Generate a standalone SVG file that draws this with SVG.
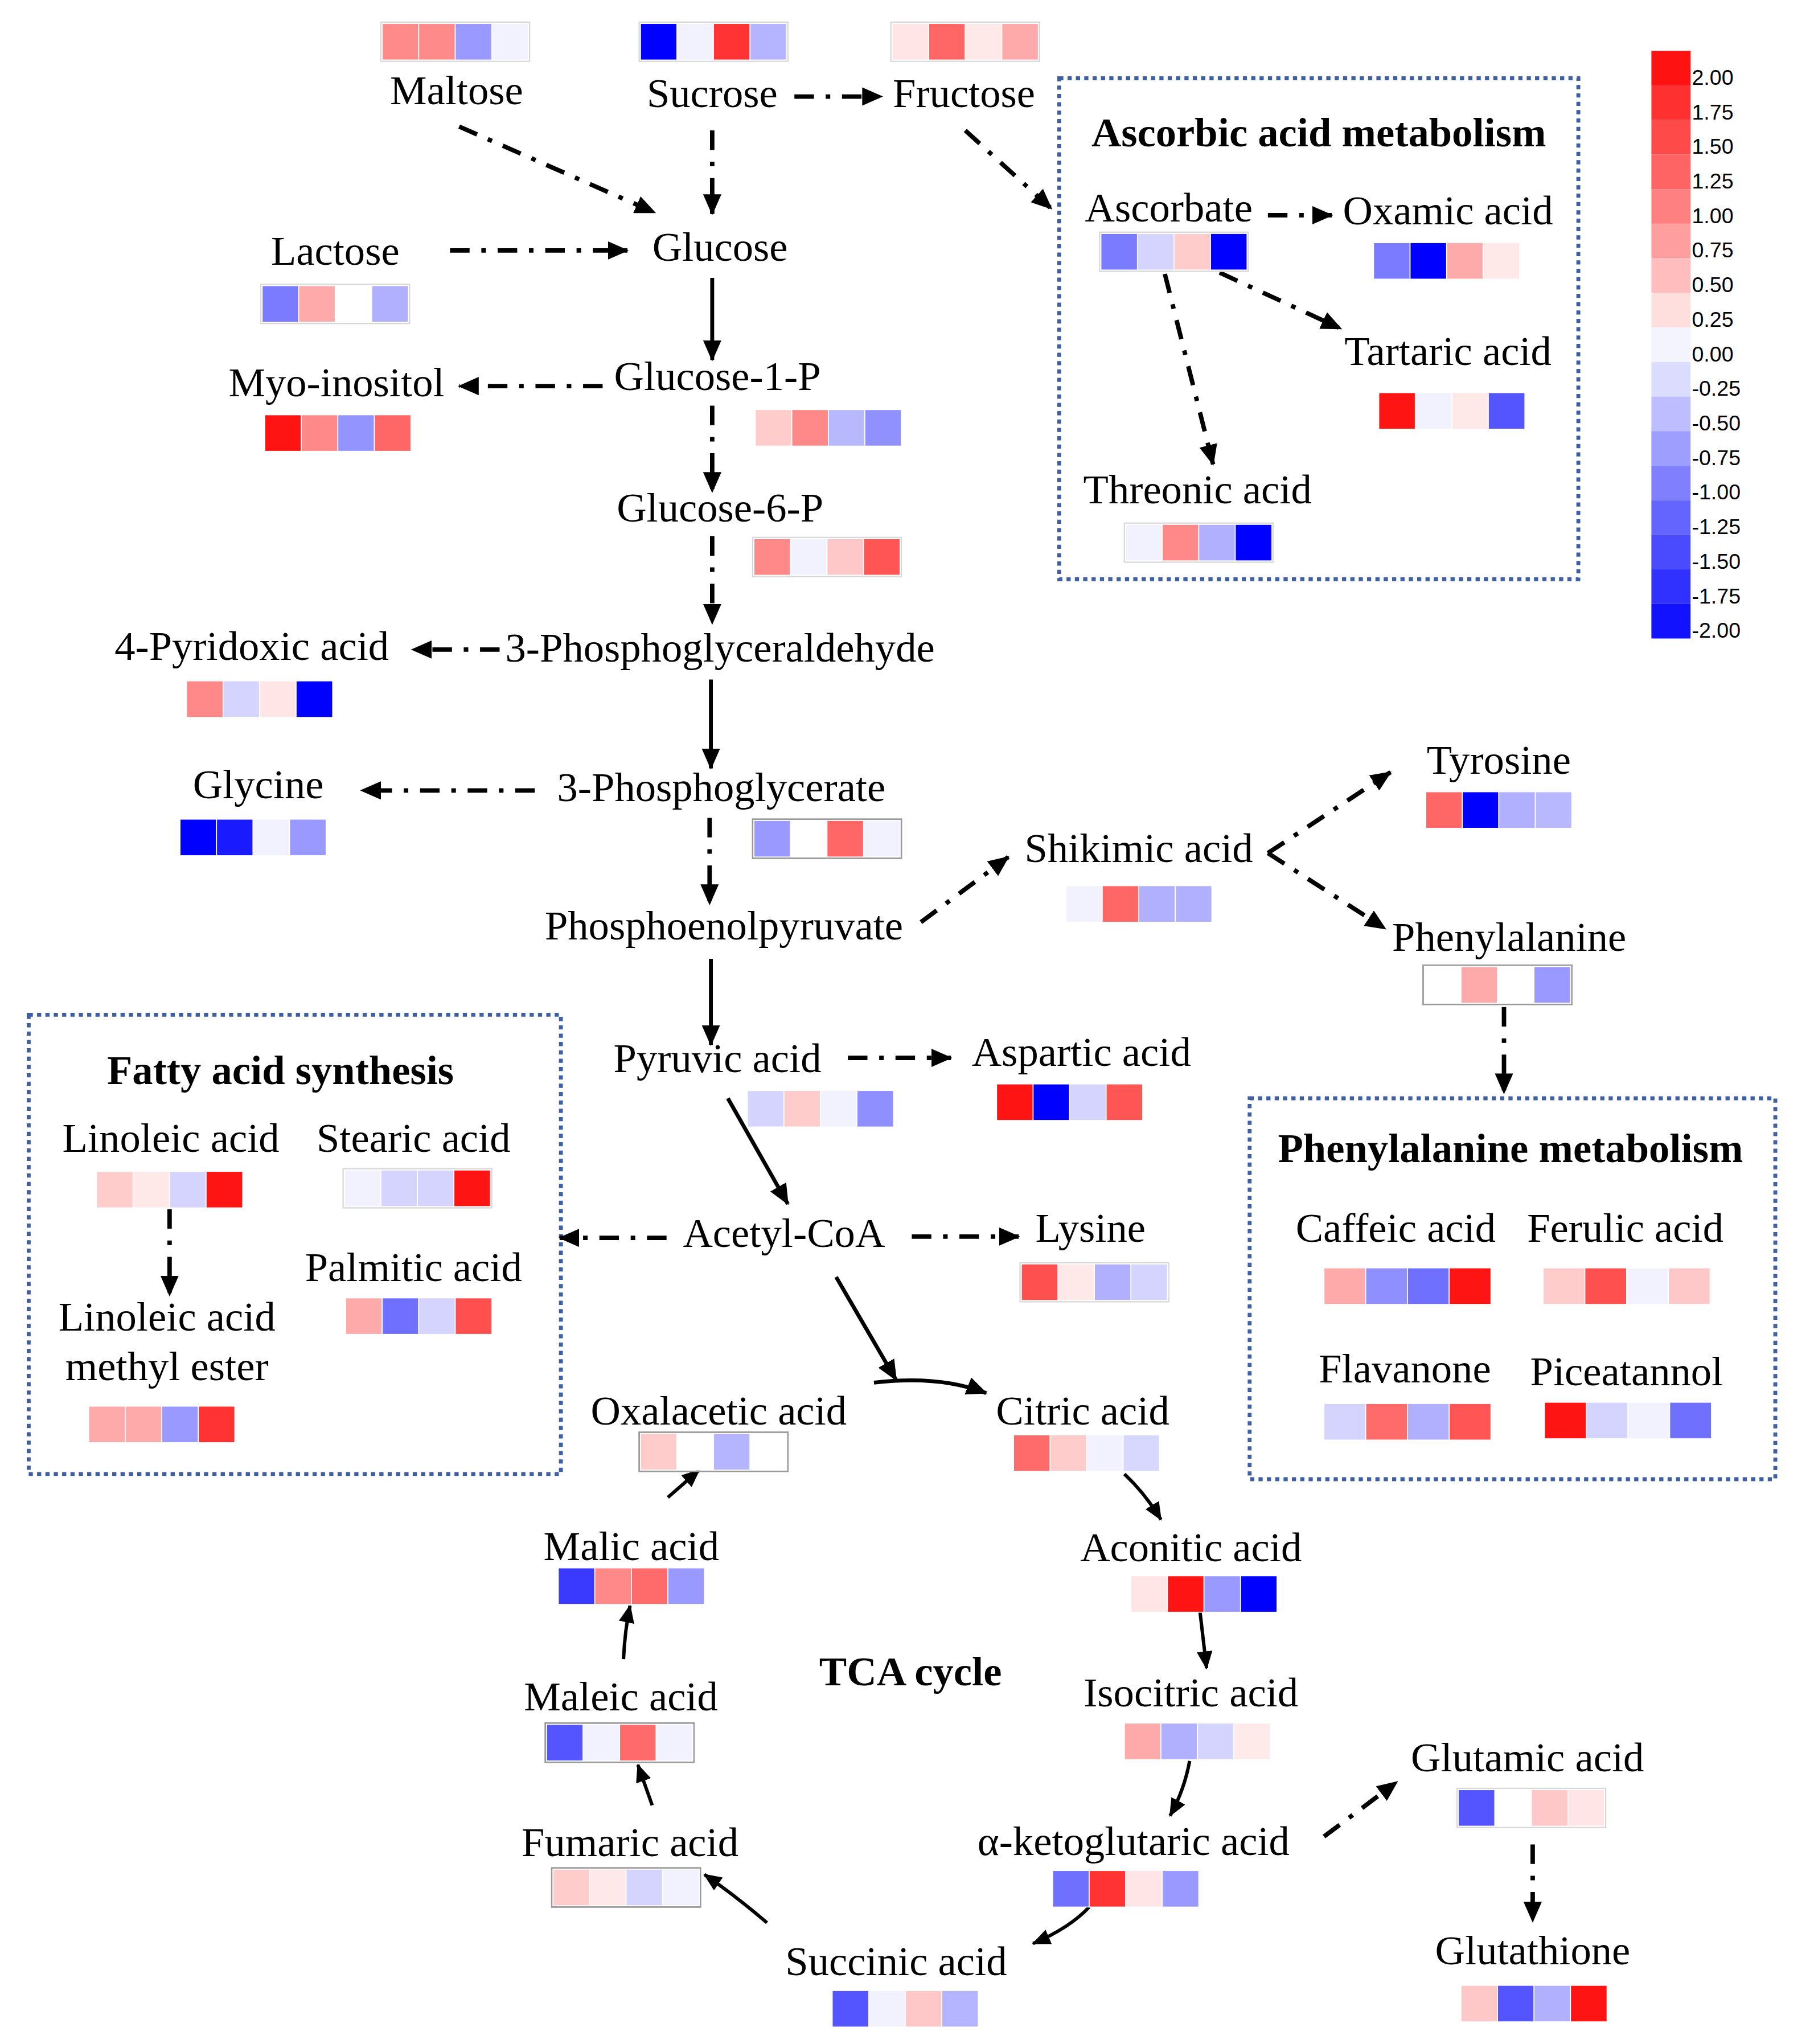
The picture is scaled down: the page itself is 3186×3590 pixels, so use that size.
<svg xmlns="http://www.w3.org/2000/svg" width="3186" height="3590" viewBox="0 0 3186 3590">
<style>
.t{font-family:"Liberation Serif","Times New Roman",serif;font-size:31.7px;text-anchor:middle;fill:#000}
.b{font-weight:bold}
.dd{fill:none;stroke:#000;stroke-width:3.4;stroke-dasharray:15 9 3.5 9;marker-end:url(#ah)}
.sl{fill:none;stroke:#000;stroke-width:3;marker-end:url(#ah)}
.tc{fill:none;stroke:#000;stroke-width:2.6;marker-end:url(#ah2)}
.box{fill:none;stroke:#3E5FA3;stroke-width:3;stroke-dasharray:3.2 3.2}
.hb{fill:none;stroke:#D8D8D8;stroke-width:1}
.hd{fill:none;stroke:#9A9A9A;stroke-width:1.2}
.c{stroke:#fff;stroke-width:0.7}
.cb{font-family:"Liberation Sans",Arial,sans-serif;font-size:16.4px;fill:#000}
</style>
<defs>
<marker id="ah" markerUnits="userSpaceOnUse" markerWidth="16" markerHeight="14" viewBox="0 0 16 14" refX="15" refY="7" orient="auto"><path d="M0,0 L16,7 L0,14 z" fill="#000"/></marker>
<marker id="ah2" markerUnits="userSpaceOnUse" markerWidth="14" markerHeight="12" viewBox="0 0 14 12" refX="13" refY="6" orient="auto"><path d="M0,0 L14,6 L0,12 z" fill="#000"/></marker>
</defs>
<rect width="3186" height="3590" fill="#fff"/>
<g transform="scale(2.291)">
<g id="boxes">
<rect id="box-ascorbic" class="box" x="812" y="60" width="398" height="384"/>
<rect id="box-fatty" class="box" x="22" y="778" width="408" height="352"/>
<rect id="box-phe" class="box" x="958" y="842" width="403" height="292"/>
<text class="t b" x="1011" y="112">Ascorbic acid metabolism</text>
<text class="t b" x="215" y="831">Fatty acid synthesis</text>
<text class="t b" x="1158" y="891">Phenylalanine metabolism</text>
<text class="t b" x="698" y="1292">TCA cycle</text>
</g>
<g id="connectors">
<path class="dd" d="M352,97 L502,163"/>
<path class="dd" d="M546,100 L546,164"/>
<path class="dd" d="M609,74 L676,74"/>
<path class="dd" d="M740,100 L806,160"/>
<path class="dd" d="M345,192 L481,192"/>
<path class="dd" d="M462,296 L352,296"/>
<path class="dd" d="M546,311 L546,377"/>
<path class="dd" d="M546,411 L546,478"/>
<path class="dd" d="M383,498 L316,498"/>
<path class="dd" d="M410,606 L277,606"/>
<path class="dd" d="M544,627 L544,693"/>
<path class="dd" d="M706,707 L773,657"/>
<path class="dd" d="M972,654 L1066,592"/>
<path class="dd" d="M972,654 L1062,712"/>
<path class="dd" d="M1153,772 L1153,838"/>
<path class="dd" d="M650,811 L729,811"/>
<path class="dd" d="M511,949 L429,949"/>
<path class="dd" d="M699,948 L781,948"/>
<path class="dd" d="M1015,1408 L1071,1366"/>
<path class="dd" d="M1175,1414 L1175,1473"/>
<path class="dd" d="M972,165 L1021,165"/>
<path class="dd" d="M935,209 L1028,252"/>
<path class="dd" d="M893,210 L930,356"/>
<path class="dd" d="M130,927 L130,993"/>
<path class="sl" d="M546,213 L546,276"/>
<path class="sl" d="M545,521 L545,589"/>
<path class="sl" d="M545,735 L545,801"/>
<path class="sl" d="M558,842 L604,923"/>
<path class="sl" d="M641,979 L687,1058"/>
<path class="sl" d="M670,1060 Q720,1054 756,1068"/>
<path class="tc" d="M862,1130 Q878,1145 890,1165"/>
<path class="tc" d="M920,1236 L925,1279"/>
<path class="tc" d="M912,1350 Q908,1372 897,1392"/>
<path class="tc" d="M835,1462 Q820,1478 792,1490"/>
<path class="tc" d="M588,1474 Q562,1452 540,1437"/>
<path class="tc" d="M500,1384 L489,1353"/>
<path class="tc" d="M478,1272 Q479,1250 483,1231"/>
<path class="tc" d="M512,1148 L536,1127"/>
</g>
<g id="n-maltose"><text class="t" x="350" y="80">Maltose</text><g transform="translate(293,18)"><rect class="hb" x="-1" y="-1" width="114" height="30"/><rect class="c" x="0" width="28" height="28" fill="#FF8A8A"/><rect class="c" x="28" width="28" height="28" fill="#FF8A8A"/><rect class="c" x="56" width="28" height="28" fill="#9999FF"/><rect class="c" x="84" width="28" height="28" fill="#F2F2FF"/></g></g>
<g id="n-sucrose"><text class="t" x="546" y="82">Sucrose</text><g transform="translate(491,18)"><rect class="hb" x="-1" y="-1" width="114" height="30"/><rect class="c" x="0" width="28" height="28" fill="#0000FF"/><rect class="c" x="28" width="28" height="28" fill="#F2F2FF"/><rect class="c" x="56" width="28" height="28" fill="#FF3333"/><rect class="c" x="84" width="28" height="28" fill="#B5B5FF"/></g></g>
<g id="n-fructose"><text class="t" x="739" y="82">Fructose</text><g transform="translate(684,18)"><rect class="hb" x="-1" y="-1" width="114" height="30"/><rect class="c" x="0" width="28" height="28" fill="#FFE5E5"/><rect class="c" x="28" width="28" height="28" fill="#FF6666"/><rect class="c" x="56" width="28" height="28" fill="#FFE8E8"/><rect class="c" x="84" width="28" height="28" fill="#FFAAAA"/></g></g>
<g id="n-glucose"><text class="t" x="552" y="200">Glucose</text></g>
<g id="n-lactose"><text class="t" x="257" y="203">Lactose</text><g transform="translate(201,219)"><rect class="hb" x="-1" y="-1" width="114" height="30"/><rect class="c" x="0" width="28" height="28" fill="#7B7BFF"/><rect class="c" x="28" width="28" height="28" fill="#FFAAAA"/><rect class="c" x="56" width="28" height="28" fill="#FFFFFF"/><rect class="c" x="84" width="28" height="28" fill="#B0B0FF"/></g></g>
<g id="n-g1p"><text class="t" x="550" y="299">Glucose-1-P</text><g transform="translate(579,314)"><rect class="c" x="0" width="28" height="28" fill="#FFCCCC"/><rect class="c" x="28" width="28" height="28" fill="#FF8888"/><rect class="c" x="56" width="28" height="28" fill="#B8B8FF"/><rect class="c" x="84" width="28" height="28" fill="#9090FF"/></g></g>
<g id="n-myo"><text class="t" x="258" y="304">Myo-inositol</text><g transform="translate(203,318)"><rect class="c" x="0" width="28" height="28" fill="#FF1414"/><rect class="c" x="28" width="28" height="28" fill="#FF8888"/><rect class="c" x="56" width="28" height="28" fill="#9494FF"/><rect class="c" x="84" width="28" height="28" fill="#FF6666"/></g></g>
<g id="n-g6p"><text class="t" x="552" y="400">Glucose-6-P</text><g transform="translate(578,413)"><rect class="hb" x="-1" y="-1" width="114" height="30"/><rect class="c" x="0" width="28" height="28" fill="#FF8888"/><rect class="c" x="28" width="28" height="28" fill="#F2F2FF"/><rect class="c" x="56" width="28" height="28" fill="#FFC8C8"/><rect class="c" x="84" width="28" height="28" fill="#FF5555"/></g></g>
<g id="n-3pgald"><text class="t" x="552" y="507">3-Phosphoglyceraldehyde</text></g>
<g id="n-pyridoxic"><text class="t" x="193" y="506">4-Pyridoxic acid</text><g transform="translate(143,522)"><rect class="c" x="0" width="28" height="28" fill="#FF8888"/><rect class="c" x="28" width="28" height="28" fill="#D4D4FF"/><rect class="c" x="56" width="28" height="28" fill="#FFE5E5"/><rect class="c" x="84" width="28" height="28" fill="#0000FF"/></g></g>
<g id="n-3pg"><text class="t" x="553" y="614">3-Phosphoglycerate</text><g transform="translate(578,629)"><rect class="hd" x="-1" y="-1" width="114" height="30"/><rect class="c" x="0" width="28" height="28" fill="#9999FF"/><rect class="c" x="28" width="28" height="28" fill="#FFFFFF"/><rect class="c" x="56" width="28" height="28" fill="#FF6666"/><rect class="c" x="84" width="28" height="28" fill="#F2F2FF"/></g></g>
<g id="n-glycine"><text class="t" x="198" y="612">Glycine</text><g transform="translate(138,628)"><rect class="c" x="0" width="28" height="28" fill="#0000FF"/><rect class="c" x="28" width="28" height="28" fill="#1A1AFF"/><rect class="c" x="56" width="28" height="28" fill="#F2F2FF"/><rect class="c" x="84" width="28" height="28" fill="#9999FF"/></g></g>
<g id="n-pep"><text class="t" x="555" y="720">Phosphoenolpyruvate</text></g>
<g id="n-shikimic"><text class="t" x="873" y="661">Shikimic acid</text><g transform="translate(817,679)"><rect class="c" x="0" width="28" height="28" fill="#F2F2FF"/><rect class="c" x="28" width="28" height="28" fill="#FF6666"/><rect class="c" x="56" width="28" height="28" fill="#B0B0FF"/><rect class="c" x="84" width="28" height="28" fill="#B0B0FF"/></g></g>
<g id="n-tyrosine"><text class="t" x="1149" y="593">Tyrosine</text><g transform="translate(1093,607)"><rect class="c" x="0" width="28" height="28" fill="#FF6666"/><rect class="c" x="28" width="28" height="28" fill="#0000FF"/><rect class="c" x="56" width="28" height="28" fill="#B0B0FF"/><rect class="c" x="84" width="28" height="28" fill="#B8B8FF"/></g></g>
<g id="n-phe"><text class="t" x="1157" y="729">Phenylalanine</text><g transform="translate(1092,741)"><rect class="hd" x="-1" y="-1" width="114" height="30"/><rect class="c" x="0" width="28" height="28" fill="#FFFFFF"/><rect class="c" x="28" width="28" height="28" fill="#FFAAAA"/><rect class="c" x="56" width="28" height="28" fill="#FFFFFF"/><rect class="c" x="84" width="28" height="28" fill="#9999FF"/></g></g>
<g id="n-pyruvic"><text class="t" x="550" y="822">Pyruvic acid</text><g transform="translate(573,836)"><rect class="c" x="0" width="28" height="28" fill="#D4D4FF"/><rect class="c" x="28" width="28" height="28" fill="#FFCCCC"/><rect class="c" x="56" width="28" height="28" fill="#F2F2FF"/><rect class="c" x="84" width="28" height="28" fill="#8F8FFF"/></g></g>
<g id="n-aspartic"><text class="t" x="829" y="817">Aspartic acid</text><g transform="translate(764,831)"><rect class="c" x="0" width="28" height="28" fill="#FF1414"/><rect class="c" x="28" width="28" height="28" fill="#0000FF"/><rect class="c" x="56" width="28" height="28" fill="#D4D4FF"/><rect class="c" x="84" width="28" height="28" fill="#FF5555"/></g></g>
<g id="n-acetylcoa"><text class="t" x="601" y="956">Acetyl-CoA</text></g>
<g id="n-lysine"><text class="t" x="836" y="952">Lysine</text><g transform="translate(783,969)"><rect class="hb" x="-1" y="-1" width="114" height="30"/><rect class="c" x="0" width="28" height="28" fill="#FF5050"/><rect class="c" x="28" width="28" height="28" fill="#FFE8E8"/><rect class="c" x="56" width="28" height="28" fill="#B0B0FF"/><rect class="c" x="84" width="28" height="28" fill="#D4D4FF"/></g></g>
<g id="n-oxalacetic"><text class="t" x="551" y="1092">Oxalacetic acid</text><g transform="translate(491,1099)"><rect class="hd" x="-1" y="-1" width="114" height="30"/><rect class="c" x="0" width="28" height="28" fill="#FFCCCC"/><rect class="c" x="28" width="28" height="28" fill="#FFFFFF"/><rect class="c" x="56" width="28" height="28" fill="#B5B5FF"/><rect class="c" x="84" width="28" height="28" fill="#FFFFFF"/></g></g>
<g id="n-citric"><text class="t" x="830" y="1092">Citric acid</text><g transform="translate(777,1100)"><rect class="c" x="0" width="28" height="28" fill="#FF6B6B"/><rect class="c" x="28" width="28" height="28" fill="#FFCCCC"/><rect class="c" x="56" width="28" height="28" fill="#F2F2FF"/><rect class="c" x="84" width="28" height="28" fill="#D8D8FF"/></g></g>
<g id="n-aconitic"><text class="t" x="913" y="1197">Aconitic acid</text><g transform="translate(867,1208)"><rect class="c" x="0" width="28" height="28" fill="#FFE5E5"/><rect class="c" x="28" width="28" height="28" fill="#FF1414"/><rect class="c" x="56" width="28" height="28" fill="#9999FF"/><rect class="c" x="84" width="28" height="28" fill="#0000FF"/></g></g>
<g id="n-isocitric"><text class="t" x="913" y="1308">Isocitric acid</text><g transform="translate(862,1321)"><rect class="c" x="0" width="28" height="28" fill="#FFAAAA"/><rect class="c" x="28" width="28" height="28" fill="#B0B0FF"/><rect class="c" x="56" width="28" height="28" fill="#D4D4FF"/><rect class="c" x="84" width="28" height="28" fill="#FFEAEA"/></g></g>
<g id="n-akg"><text class="t" x="869" y="1422">α-ketoglutaric acid</text><g transform="translate(807,1434)"><rect class="c" x="0" width="28" height="28" fill="#7070FF"/><rect class="c" x="28" width="28" height="28" fill="#FF3333"/><rect class="c" x="56" width="28" height="28" fill="#FFE5E5"/><rect class="c" x="84" width="28" height="28" fill="#9999FF"/></g></g>
<g id="n-glutamic"><text class="t" x="1171" y="1358">Glutamic acid</text><g transform="translate(1118,1372)"><rect class="hb" x="-1" y="-1" width="114" height="30"/><rect class="c" x="0" width="28" height="28" fill="#5555FF"/><rect class="c" x="28" width="28" height="28" fill="#FFFFFF"/><rect class="c" x="56" width="28" height="28" fill="#FFC8C8"/><rect class="c" x="84" width="28" height="28" fill="#FFE5E5"/></g></g>
<g id="n-glutathione"><text class="t" x="1175" y="1506">Glutathione</text><g transform="translate(1120,1522)"><rect class="c" x="0" width="28" height="28" fill="#FFC8C8"/><rect class="c" x="28" width="28" height="28" fill="#5555FF"/><rect class="c" x="56" width="28" height="28" fill="#B0B0FF"/><rect class="c" x="84" width="28" height="28" fill="#FF1414"/></g></g>
<g id="n-succinic"><text class="t" x="687" y="1514">Succinic acid</text><g transform="translate(638,1526)"><rect class="c" x="0" width="28" height="28" fill="#5555FF"/><rect class="c" x="28" width="28" height="28" fill="#F2F2FF"/><rect class="c" x="56" width="28" height="28" fill="#FFC8C8"/><rect class="c" x="84" width="28" height="28" fill="#B5B5FF"/></g></g>
<g id="n-fumaric"><text class="t" x="483" y="1423">Fumaric acid</text><g transform="translate(424,1433)"><rect class="hd" x="-1" y="-1" width="114" height="30"/><rect class="c" x="0" width="28" height="28" fill="#FFCCCC"/><rect class="c" x="28" width="28" height="28" fill="#FFE8E8"/><rect class="c" x="56" width="28" height="28" fill="#D4D4FF"/><rect class="c" x="84" width="28" height="28" fill="#F2F2FF"/></g></g>
<g id="n-maleic"><text class="t" x="476" y="1311">Maleic acid</text><g transform="translate(419,1322)"><rect class="hd" x="-1" y="-1" width="114" height="30"/><rect class="c" x="0" width="28" height="28" fill="#5555FF"/><rect class="c" x="28" width="28" height="28" fill="#F2F2FF"/><rect class="c" x="56" width="28" height="28" fill="#FF6B6B"/><rect class="c" x="84" width="28" height="28" fill="#F2F2FF"/></g></g>
<g id="n-malic"><text class="t" x="484" y="1196">Malic acid</text><g transform="translate(428,1202)"><rect class="c" x="0" width="28" height="28" fill="#3A3AFF"/><rect class="c" x="28" width="28" height="28" fill="#FF8888"/><rect class="c" x="56" width="28" height="28" fill="#FF6B6B"/><rect class="c" x="84" width="28" height="28" fill="#9999FF"/></g></g>
<g id="n-ascorbate"><text class="t" x="896" y="170">Ascorbate</text><g transform="translate(844,179)"><rect class="hb" x="-1" y="-1" width="114" height="30"/><rect class="c" x="0" width="28" height="28" fill="#7B7BFF"/><rect class="c" x="28" width="28" height="28" fill="#D4D4FF"/><rect class="c" x="56" width="28" height="28" fill="#FFCCCC"/><rect class="c" x="84" width="28" height="28" fill="#0000FF"/></g></g>
<g id="n-oxamic"><text class="t" x="1110" y="172">Oxamic acid</text><g transform="translate(1053,186)"><rect class="c" x="0" width="28" height="28" fill="#7B7BFF"/><rect class="c" x="28" width="28" height="28" fill="#0000FF"/><rect class="c" x="56" width="28" height="28" fill="#FFAAAA"/><rect class="c" x="84" width="28" height="28" fill="#FFE8E8"/></g></g>
<g id="n-tartaric"><text class="t" x="1110" y="280">Tartaric acid</text><g transform="translate(1057,301)"><rect class="c" x="0" width="28" height="28" fill="#FF1414"/><rect class="c" x="28" width="28" height="28" fill="#F2F2FF"/><rect class="c" x="56" width="28" height="28" fill="#FFE8E8"/><rect class="c" x="84" width="28" height="28" fill="#5555FF"/></g></g>
<g id="n-threonic"><text class="t" x="918" y="386">Threonic acid</text><g transform="translate(863,402)"><rect class="hb" x="-1" y="-1" width="114" height="30"/><rect class="c" x="0" width="28" height="28" fill="#F2F2FF"/><rect class="c" x="28" width="28" height="28" fill="#FF8888"/><rect class="c" x="56" width="28" height="28" fill="#B0B0FF"/><rect class="c" x="84" width="28" height="28" fill="#0000FF"/></g></g>
<g id="n-linoleic"><text class="t" x="131" y="883">Linoleic acid</text><g transform="translate(74,898)"><rect class="c" x="0" width="28" height="28" fill="#FFCCCC"/><rect class="c" x="28" width="28" height="28" fill="#FFE8E8"/><rect class="c" x="56" width="28" height="28" fill="#D4D4FF"/><rect class="c" x="84" width="28" height="28" fill="#FF1414"/></g></g>
<g id="n-stearic"><text class="t" x="317" y="883">Stearic acid</text><g transform="translate(264,897)"><rect class="hb" x="-1" y="-1" width="114" height="30"/><rect class="c" x="0" width="28" height="28" fill="#F2F2FF"/><rect class="c" x="28" width="28" height="28" fill="#D4D4FF"/><rect class="c" x="56" width="28" height="28" fill="#D4D4FF"/><rect class="c" x="84" width="28" height="28" fill="#FF1414"/></g></g>
<g id="n-palmitic"><text class="t" x="317" y="982">Palmitic acid</text><g transform="translate(265,995)"><rect class="c" x="0" width="28" height="28" fill="#FFAAAA"/><rect class="c" x="28" width="28" height="28" fill="#7070FF"/><rect class="c" x="56" width="28" height="28" fill="#D4D4FF"/><rect class="c" x="84" width="28" height="28" fill="#FF5050"/></g></g>
<g id="n-lame"><text class="t" x="128" y="1020">Linoleic acid</text><text class="t" x="128" y="1058">methyl ester</text><g transform="translate(68,1078)"><rect class="c" x="0" width="28" height="28" fill="#FFAAAA"/><rect class="c" x="28" width="28" height="28" fill="#FFAAAA"/><rect class="c" x="56" width="28" height="28" fill="#9999FF"/><rect class="c" x="84" width="28" height="28" fill="#FF3333"/></g></g>
<g id="n-caffeic"><text class="t" x="1070" y="952">Caffeic acid</text><g transform="translate(1015,972)"><rect class="c" x="0" width="32" height="28" fill="#FFAAAA"/><rect class="c" x="32" width="32" height="28" fill="#8F8FFF"/><rect class="c" x="64" width="32" height="28" fill="#7070FF"/><rect class="c" x="96" width="32" height="28" fill="#FF1414"/></g></g>
<g id="n-ferulic"><text class="t" x="1246" y="952">Ferulic acid</text><g transform="translate(1183,972)"><rect class="c" x="0" width="32" height="28" fill="#FFCCCC"/><rect class="c" x="32" width="32" height="28" fill="#FF5050"/><rect class="c" x="64" width="32" height="28" fill="#F2F2FF"/><rect class="c" x="96" width="32" height="28" fill="#FFC8C8"/></g></g>
<g id="n-flavanone"><text class="t" x="1077" y="1060">Flavanone</text><g transform="translate(1015,1076)"><rect class="c" x="0" width="32" height="28" fill="#D4D4FF"/><rect class="c" x="32" width="32" height="28" fill="#FF6B6B"/><rect class="c" x="64" width="32" height="28" fill="#B0B0FF"/><rect class="c" x="96" width="32" height="28" fill="#FF5555"/></g></g>
<g id="n-piceatannol"><text class="t" x="1247" y="1062">Piceatannol</text><g transform="translate(1184,1075)"><rect class="c" x="0" width="32" height="28" fill="#FF1414"/><rect class="c" x="32" width="32" height="28" fill="#D4D4FF"/><rect class="c" x="64" width="32" height="28" fill="#F2F2FF"/><rect class="c" x="96" width="32" height="28" fill="#7070FF"/></g></g>
<g id="colorbar" transform="translate(1266,39)">
<rect x="0" y="0" width="30" height="26.5" fill="#FF1212"/>
<rect x="0" y="26.5" width="30" height="26.5" fill="#FF3030"/>
<rect x="0" y="53" width="30" height="26.5" fill="#FF4A4A"/>
<rect x="0" y="79.5" width="30" height="26.5" fill="#FF6464"/>
<rect x="0" y="106" width="30" height="26.5" fill="#FF8080"/>
<rect x="0" y="132.5" width="30" height="26.5" fill="#FF9E9E"/>
<rect x="0" y="159" width="30" height="26.5" fill="#FFBDBD"/>
<rect x="0" y="185.5" width="30" height="26.5" fill="#FFDEDE"/>
<rect x="0" y="212" width="30" height="26.5" fill="#F4F4FF"/>
<rect x="0" y="238.5" width="30" height="26.5" fill="#DCDCFF"/>
<rect x="0" y="265" width="30" height="26.5" fill="#BDBDFF"/>
<rect x="0" y="291.5" width="30" height="26.5" fill="#9E9EFF"/>
<rect x="0" y="318" width="30" height="26.5" fill="#8080FF"/>
<rect x="0" y="344.5" width="30" height="26.5" fill="#6464FF"/>
<rect x="0" y="371" width="30" height="26.5" fill="#4A4AFF"/>
<rect x="0" y="397.5" width="30" height="26.5" fill="#3030FF"/>
<rect x="0" y="424" width="30" height="26.5" fill="#1212FF"/>
<text class="cb" x="31" y="26">2.00</text>
<text class="cb" x="31" y="52.5">1.75</text>
<text class="cb" x="31" y="79">1.50</text>
<text class="cb" x="31" y="105.5">1.25</text>
<text class="cb" x="31" y="132">1.00</text>
<text class="cb" x="31" y="158.5">0.75</text>
<text class="cb" x="31" y="185">0.50</text>
<text class="cb" x="31" y="211.5">0.25</text>
<text class="cb" x="31" y="238">0.00</text>
<text class="cb" x="31" y="264.5">-0.25</text>
<text class="cb" x="31" y="291">-0.50</text>
<text class="cb" x="31" y="317.5">-0.75</text>
<text class="cb" x="31" y="344">-1.00</text>
<text class="cb" x="31" y="370.5">-1.25</text>
<text class="cb" x="31" y="397">-1.50</text>
<text class="cb" x="31" y="423.5">-1.75</text>
<text class="cb" x="31" y="450">-2.00</text>
</g>
</g>
</svg>
